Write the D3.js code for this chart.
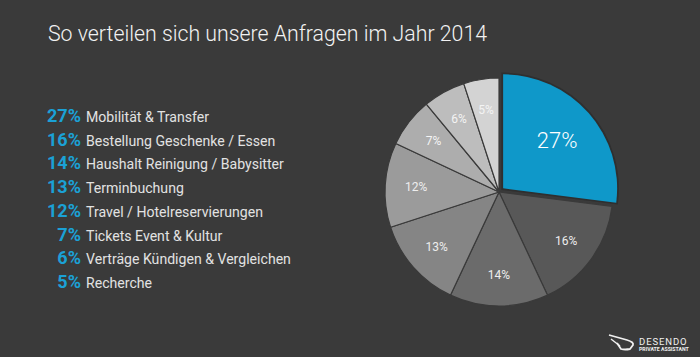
<!DOCTYPE html>
<html><head><meta charset="utf-8">
<script src="https://cdn.jsdelivr.net/npm/d3@7"></script>
<style>
html,body{margin:0;padding:0;background:#3a3a3a;}
svg{display:block;}
</style></head>
<body>
<svg id="c" width="700" height="357"></svg>
<script>
const title = "So verteilen sich unsere Anfragen im Jahr 2014";
const categories = ["Mobilität & Transfer","Bestellung Geschenke / Essen","Haushalt Reinigung / Babysitter","Terminbuchung","Travel / Hotelreservierungen","Tickets Event & Kultur","Verträge Kündigen & Vergleichen","Recherche"];
const values = [27,16,14,13,12,7,6,5];
const sliceColors = ["#0f98c9","#585858","#6b6b6b","#858585","#9b9b9b","#adadad","#bdbdbd","#d3d3d3"];

const svg = d3.select("#c");
svg.append("rect").attr("width",700).attr("height",357).attr("fill","#3a3a3a");

svg.append("text").attr("x",48).attr("y",41)
  .attr("font-family","Roboto").attr("font-weight",300).attr("font-size",21.3)
  .attr("fill","#f2f2f2").text(title);

// legend
const rowY = d3.scalePoint().domain(d3.range(values.length)).range([122,288]);
const leg = svg.append("g");
values.forEach((v,i)=>{
  leg.append("text").attr("x",81).attr("y",rowY(i)).attr("text-anchor","end")
    .attr("font-family","Roboto").attr("font-weight",700).attr("font-size",18)
    .attr("fill","#1ba1d6").text(v+"%");
  leg.append("text").attr("x",86).attr("y",rowY(i))
    .attr("font-family","Roboto").attr("font-size",14.1)
    .attr("fill","#e2e2e2").text(categories[i]);
});

// pie
const cx=499, cy=192, R=114;
const pie = d3.pie().sort(null).value(d=>d);
const arcs = pie(values);
const arc = d3.arc().innerRadius(0).outerRadius(R);
const labelArc = d3.arc().innerRadius(83).outerRadius(83);
const g = svg.append("g").attr("transform",`translate(${cx},${cy})`);
arcs.forEach((a,i)=>{
  if(i===0) return;
  g.append("path").attr("d",arc(a)).attr("fill",sliceColors[i])
    .attr("stroke","#3a3a3a").attr("stroke-width",1.2).attr("stroke-linejoin","round");
});
// exploded slice
const a0 = arcs[0];
const mid = (a0.startAngle+a0.endAngle)/2;
const off = 5.5;
const eg = g.append("g").attr("transform",`translate(${Math.sin(mid)*off},${-Math.cos(mid)*off})`);
eg.append("path").attr("d",arc(a0)).attr("fill",sliceColors[0])
  .attr("stroke","#2f2f2f").attr("stroke-width",3.5).attr("stroke-linejoin","miter");
eg.append("path").attr("d",arc(a0)).attr("fill",sliceColors[0]);
eg.append("text").attr("transform",()=>{const p=d3.arc().innerRadius(72).outerRadius(72).centroid(a0);return `translate(${p[0]},${p[1]})`;})
  .attr("text-anchor","middle").attr("dy","0.35em")
  .attr("font-family","Roboto").attr("font-weight",300).attr("font-size",22)
  .attr("fill","#ffffff").text(values[0]+"%");
arcs.forEach((a,i)=>{
  if(i===0) return;
  const p = labelArc.centroid(a);
  g.append("text").attr("x",p[0]).attr("y",p[1]).attr("dy","0.35em")
    .attr("text-anchor","middle").attr("font-family","Roboto").attr("font-size",12)
    .attr("fill", i>=5 ? "#f4f4f4" : "#eeeeee").text(values[i]+"%");
});

// logo
const lg = svg.append("g");
lg.append("path").attr("d","M609,335 L627,340 Q634,342 633,345 L630,349 Q625,350 621,349 L617,343")
  .attr("fill","none").attr("stroke","#f0f0f0").attr("stroke-width",1.8).attr("stroke-linejoin","round");
lg.append("path").attr("d","M611,339 L620,346").attr("stroke","#f0f0f0").attr("stroke-width",1.4);
lg.append("text").attr("x",639).attr("y",344.5).attr("font-family","Roboto").attr("font-size",9.5)
  .attr("letter-spacing",0.9).attr("fill","#f0f0f0").text("DESENDO");
lg.append("text").attr("x",639).attr("y",351).attr("font-family","Roboto").attr("font-weight",700)
  .attr("font-size",5.2).attr("fill","#f0f0f0").text("PRIVATE ASSISTANT");
</script>
</body></html>
